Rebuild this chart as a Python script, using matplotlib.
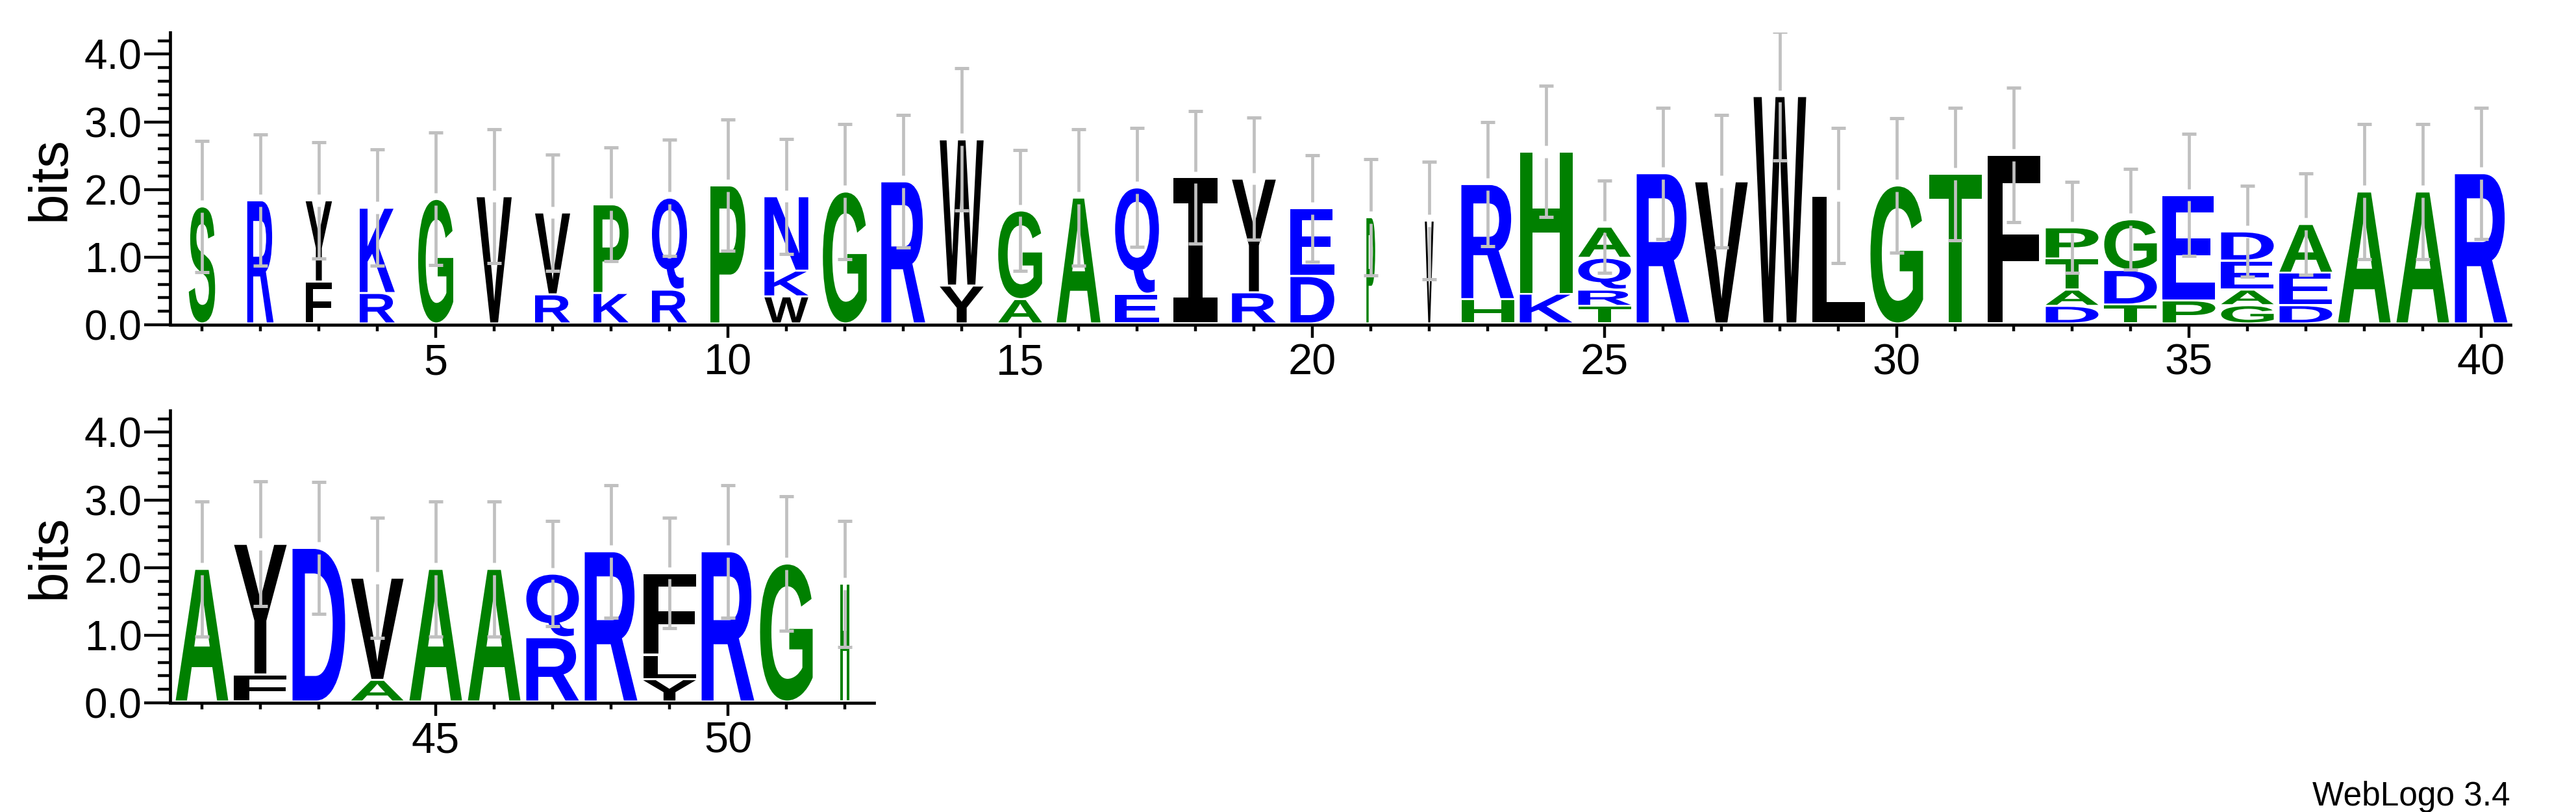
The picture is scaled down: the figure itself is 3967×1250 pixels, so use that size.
import matplotlib
matplotlib.use("Agg")
import matplotlib.pyplot as plt
from matplotlib.textpath import TextPath
from matplotlib.font_manager import FontProperties
from matplotlib.patches import PathPatch
from matplotlib.transforms import Affine2D
from matplotlib.ticker import MultipleLocator, FormatStrFormatter

plt.rcParams['font.family'] = ['Liberation Sans', 'DejaVu Sans']

# ---------------- data ----------------
positions = list(range(1, 53))
n_seqs = 6
occupancy = [3, 3, 3, 4, 4, 4, 4, 4, 4, 4,
             5, 5, 5, 5, 5, 5, 5, 5, 5, 5,
             1, 1,
             6, 6, 6, 6, 6, 6, 6, 6, 6, 6, 6, 6, 6, 6, 6, 6, 6, 6,
             6, 6, 6, 6, 6, 6, 6, 6, 6, 6, 6,
             1]

# letters of each stack, bottom to top
stack_letters = ["S", "R", "FY", "RK", "G", "V", "RV", "KP", "RQ", "P",
                 "WKN", "G", "R", "YW", "AG", "A", "EQ", "I", "RY", "DE",
                 "P", "V", "HR", "KH", "TRQA", "R", "V", "W", "L", "G",
                 "T", "F", "DATP", "TDG", "PE", "GAED", "DEA", "A", "A", "R",
                 "A", "FY", "D", "AV", "A", "A", "RQ", "R", "YLF", "R", "G", "H"]

# heights in bits, bottom to top
stack_heights = [[1.73], [1.82], [0.62, 1.20], [0.45, 1.26], [1.84], [1.88],
                 [0.43, 1.21], [0.45, 1.31], [0.50, 1.36], [2.04],
                 [0.40, 0.38, 1.10], [1.95], [2.10], [0.56, 2.16], [0.36, 1.31],
                 [1.86], [0.44, 1.57], [2.16], [0.46, 1.68], [0.70, 1.00],
                 [1.57], [1.52], [0.36, 1.70], [0.44, 2.10], [0.26, 0.24, 0.47, 0.46],
                 [2.22], [2.10], [3.36], [1.89], [2.04],
                 [2.21], [2.49], [0.26, 0.24, 0.46, 0.46], [0.28, 0.51, 0.75],
                 [0.34, 1.56], [0.27, 0.23, 0.43, 0.43], [0.27, 0.48, 0.72],
                 [1.95], [1.95], [2.22],
                 [1.96], [0.40, 1.93], [2.27], [0.32, 1.51], [1.96], [1.96],
                 [0.95, 0.94], [2.22], [0.33, 0.36, 1.21], [2.22], [2.04], [1.74]]

errors = [0.97, 0.97, 0.86, 0.86, 0.98, 0.99, 0.86, 0.84, 0.86, 0.97,
          0.85, 1.00, 0.98, 1.05, 0.89, 1.01, 0.88, 0.98, 0.90, 0.79,
          0.86, 0.87, 0.92, 0.97, 0.68, 0.97, 0.98, 0.95, 1.00, 0.99,
          0.98, 0.99, 0.67, 0.74, 0.90, 0.67, 0.75, 1.00, 1.00, 0.97,
          1.00, 0.92, 0.97, 0.89, 1.00, 1.00, 0.78, 0.98, 0.82, 0.98, 0.99, 0.93]

rows = [(0.5, 40.5), (40.5, 52.5)]

# ---------------- style ----------------
GREEN, BLUE, BLACK = "#008000", "#0000ff", "#000000"
colors = {}
for c in "SGPAHT":
    colors[c] = GREEN
for c in "RKQNED":
    colors[c] = BLUE
for c in "YFVWIL":
    colors[c] = BLACK
ERR_COLOR = "#c0c0c0"

FONT = FontProperties(family="Liberation Sans", weight="bold")
FONT_I = FontProperties(family="DejaVu Sans Mono", weight="bold")

W, H = 3967, 1250
DPI = 100
fig = plt.figure(figsize=(W / DPI, H / DPI), dpi=DPI, facecolor="white")

left = 266 / W
unit = 90 / W  # one position
axes_rect = [
    [left, 0.6, 40 * unit, 0.36],
    [left, 0.1344, 12 * unit, 0.36],
]

BASE = 0.02
MARGIN = 0.015
FULL_W = 0.9
GAP = 0.09
CAP_HALF = 0.117


def draw_letter(ax, ch, xc, y0, w, h, color):
    fp = FONT_I if ch == "I" else FONT
    tp = TextPath((0, 0), ch, size=1, prop=fp)
    bb = tp.get_extents()
    hh = max(h - 2 * MARGIN, 0.001)
    tr = (Affine2D().translate(-bb.x0, -bb.y0)
          .scale(w / bb.width, hh / bb.height)
          .translate(xc - w / 2, y0 + MARGIN))
    path = tr.transform_path(tp)
    ax.add_patch(PathPatch(path, facecolor=color, edgecolor="none", lw=0, zorder=2))


for rect, (lo, hi) in zip(axes_rect, rows):
    ax = fig.add_axes(rect)
    ax.set_xlim(lo, hi)
    ax.set_ylim(0, 4.32)
    ax.set_facecolor("white")
    for s in ("top", "right"):
        ax.spines[s].set_visible(False)
    ax.spines["left"].set_position(("outward", 3))
    for s in ("left", "bottom"):
        ax.spines[s].set_linewidth(3.4)
    ax.yaxis.set_major_locator(MultipleLocator(1))
    ax.yaxis.set_minor_locator(MultipleLocator(0.2))
    ax.yaxis.set_major_formatter(FormatStrFormatter("%.1f"))
    ax.xaxis.set_major_locator(MultipleLocator(5))
    ax.xaxis.set_minor_locator(MultipleLocator(1))
    ax.tick_params(axis="y", which="major", length=29, width=3.2, labelsize=46, pad=2)
    ax.tick_params(axis="y", which="minor", length=14, width=3.2)
    ax.tick_params(axis="x", which="major", length=14.4, width=3.2, labelsize=48, pad=6)
    ax.tick_params(axis="x", which="minor", length=7.2, width=3.2)

    for p, letters, hs, err, occ in zip(positions, stack_letters, stack_heights, errors, occupancy):
        if not (lo < p < hi):
            continue
        w = FULL_W * occ / n_seqs
        y = BASE
        for ch, h in zip(letters, hs):
            draw_letter(ax, ch, p, y, w, h, colors[ch])
            y += h
        top = y
        ax.vlines(p, top + GAP, top + err, colors=ERR_COLOR, lw=3.4, zorder=3, capstyle="butt")
        ax.vlines(p, top - err, top - GAP, colors=ERR_COLOR, lw=3.4, zorder=3, capstyle="butt")
        ax.hlines([top + err, top - err], p - CAP_HALF, p + CAP_HALF, colors=ERR_COLOR,
                  lw=3.6, zorder=3, capstyle="butt")

    cy = rect[1] + rect[3] / 2
    fig.text(78 / W, cy, "bits", rotation=90, ha="center", va="center", fontsize=60)

fig.text(3866 / W, 1 - 1240 / H, "WebLogo 3.4", ha="right", va="baseline", fontsize=37)

fig.savefig("out.png", dpi=DPI, facecolor="white")
